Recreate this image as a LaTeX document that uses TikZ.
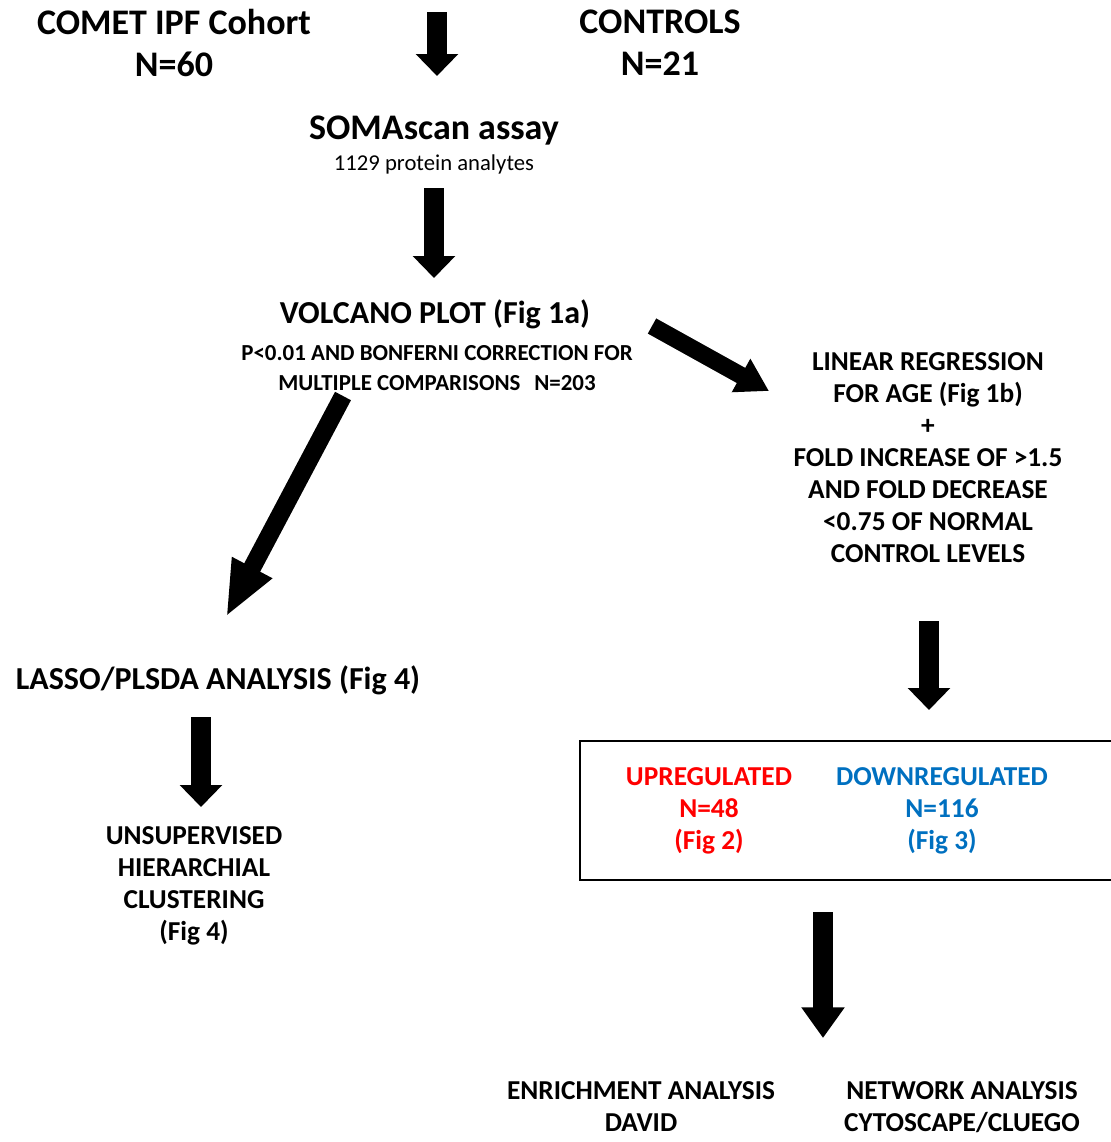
\documentclass[tikz,border=0pt]{standalone}
\usepackage{fontspec}
\setmainfont{Carlito}
\usetikzlibrary{arrows.meta}

\begin{document}
\begin{tikzpicture}[x=0.75pt, y=-0.75pt,
  big/.style={font=\fontsize{27}{31.5}\selectfont\bfseries, align=center, inner sep=0pt},
  head/.style={font=\fontsize{24}{28}\selectfont\bfseries, align=center, inner sep=0pt},
  body/.style={font=\fontsize{20.5}{24}\selectfont\bfseries, align=center, inner sep=0pt},
  small/.style={font=\fontsize{17.2}{22.5}\selectfont\bfseries, align=center, inner sep=0pt},
  fat/.style={line width=15pt, -{Triangle[length=16.5pt, width=31pt]}},
  slant/.style={line width=13pt, -{Triangle[length=24pt, width=27pt]}}]
\useasboundingbox (0,0) rectangle (1110,1142);
\node[big] (ipf) at (174,43) {COMET IPF Cohort\\N=60};
\node[big] (ctrl) at (660,43) {CONTROLS\\N=21};
\node[big] (soma) at (434,131) {SOMAscan assay};
\node[font=\fontsize{17}{20}\selectfont, inner sep=0pt] (analytes) at (434,164) {1129 protein analytes};
\node[head] (volcano) at (435,314) {VOLCANO PLOT (Fig 1a)};
\node[small] (bonf) at (437,368) {P<0.01 AND BONFERNI CORRECTION FOR\\MULTIPLE COMPARISONS\hspace{0.6em}N=203};
\node[body] (linreg) at (928,458) {LINEAR REGRESSION\\FOR AGE (Fig 1b)\\+\\FOLD INCREASE OF >1.5\\AND FOLD DECREASE\\<0.75 OF NORMAL\\CONTROL LEVELS};
\node[head] (lasso) at (218,680) {LASSO/PLSDA ANALYSIS (Fig 4)};
\node[body] (cluster) at (194,886) {UNSUPERVISED\\HIERARCHIAL\\CLUSTERING\\(Fig 4)};
\draw[line width=1.5pt] (580,741) rectangle (1116,880);
\node[body, text={rgb,255:red,255;green,0;blue,0}] (up) at (709,811) {UPREGULATED\\N=48\\(Fig 2)};
\node[body, text={rgb,255:red,0;green,112;blue,192}] (down) at (942,811) {DOWNREGULATED\\N=116\\(Fig 3)};
\node[body] (david) at (641,1107) {ENRICHMENT ANALYSIS\\DAVID};
\node[body] (cluego) at (962,1107) {NETWORK ANALYSIS\\CYTOSCAPE/CLUEGO};
\coordinate (a1s) at (437,12);  \coordinate (a1e) at (437,76);
\coordinate (a2s) at (434,188); \coordinate (a2e) at (434,278);
\coordinate (a3s) at (652,326); \coordinate (a3e) at (769,391);
\coordinate (a4s) at (343,396); \coordinate (a4e) at (226,617);
\coordinate (a5s) at (201,717); \coordinate (a5e) at (201,807);
\coordinate (a6s) at (929,621); \coordinate (a6e) at (929,710);
\coordinate (a7s) at (823,912); \coordinate (a7e) at (823,1038);
\draw[fat] (a1s) -- (a1e);
\draw[fat] (a2s) -- (a2e);
\draw[slant] (a3s) -- (a3e);
\draw[slant, line width=13.5pt, -{Triangle[length=42pt, width=31pt]}] (a4s) -- (a4e);
\draw[fat] (a5s) -- (a5e);
\draw[fat] (a6s) -- (a6e);
\draw[fat, -{Triangle[length=23pt, width=31pt]}] (a7s) -- (a7e);
\end{tikzpicture}
\end{document}
